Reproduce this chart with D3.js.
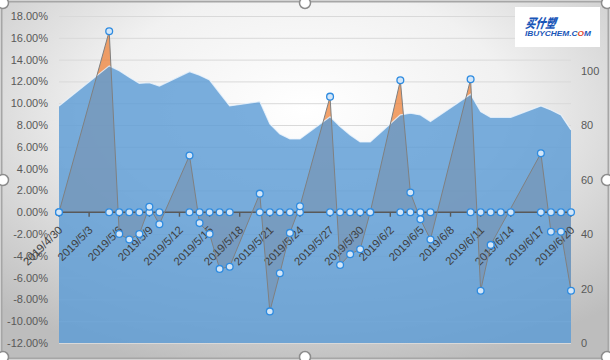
<!DOCTYPE html>
<html><head><meta charset="utf-8">
<script src="https://cdn.jsdelivr.net/npm/d3@7"></script>
<style>body{margin:0;background:#fff}svg{display:block}</style>
</head><body>
<svg id="c" width="610" height="360"></svg>
<script>
// ---- data ----
const dates = ["2019-04-30","2019-05-05","2019-05-06","2019-05-07","2019-05-08","2019-05-09","2019-05-10",
  "2019-05-13","2019-05-14","2019-05-15","2019-05-16","2019-05-17",
  "2019-05-20","2019-05-21","2019-05-22","2019-05-23","2019-05-24",
  "2019-05-27","2019-05-28","2019-05-29","2019-05-30","2019-05-31",
  "2019-06-03","2019-06-04","2019-06-05","2019-06-06",
  "2019-06-10","2019-06-11","2019-06-12","2019-06-13","2019-06-14",
  "2019-06-17","2019-06-18","2019-06-19","2019-06-20"];
// daily change (%), primary axis
const changePct = [0,16.6,-2.0,-2.5,-2.0,0.5,-1.1,
  5.2,-1.0,-2.0,-5.2,-5.0,
  1.7,-9.1,-5.6,-1.9,0.55,
  10.6,-4.85,-3.85,-3.4,0,
  12.1,1.8,-0.65,-2.5,
  12.2,-7.2,-3.0,null,null,
  5.4,-1.8,-1.8,-7.2];
// zero baseline series
const baseline = [0,0,0,0,0,0,0, 0,0,0,0,0, 0,0,0,0,0, 0,0,0,0,0, 0,0,0,0, 0,0,0,0,0, 0,0,0,0];
// index, secondary axis
const priceIndex = [87.0,101.7,99.9,97.5,95.3,95.5,94.3,
  99.6,98.3,96.5,91.7,87.0,
  88.6,80.4,76.7,74.9,74.9,
  83.0,79.4,76.3,73.8,73.8,
  83.7,84.3,83.7,81.3,
  91.3,84.9,82.8,82.8,82.8,
  87.0,85.5,83.7,78.2];
const leftTicks = [-12,-10,-8,-6,-4,-2,0,2,4,6,8,10,12,14,16,18];
const rightTicks = [0,20,40,60,80,100,120];
const xTickLabels = ["2019-04-30","2019-05-03","2019-05-06","2019-05-09","2019-05-12","2019-05-15","2019-05-18",
  "2019-05-21","2019-05-24","2019-05-27","2019-05-30","2019-06-02","2019-06-05","2019-06-08","2019-06-11",
  "2019-06-14","2019-06-17","2019-06-20"];

// ---- chart ----
const svg = d3.select("#c");
const defs = svg.append("defs");
const rg = defs.append("radialGradient").attr("id","bg").attr("cx","50%").attr("cy","30%").attr("r","75%");
rg.append("stop").attr("offset","0%").attr("stop-color","#ffffff");
rg.append("stop").attr("offset","45%").attr("stop-color","#f1f1f1");
rg.append("stop").attr("offset","100%").attr("stop-color","#bdbdbd");

svg.append("rect").attr("x",1.5).attr("y",1.5).attr("width",607).attr("height",357).attr("rx",7)
  .attr("fill","url(#bg)").attr("stroke","#a6a6a6").attr("stroke-width",2);

const parse = d3.utcParse("%Y-%m-%d");
const X0 = 59, X1 = 571, Y0 = 16, Y1 = 343;
const x = d3.scaleUtc().domain([parse(dates[0]), parse(dates[dates.length-1])]).range([X0, X1]);
const yL = d3.scaleLinear().domain([-12,18]).range([Y1, Y0]);
const yR = d3.scaleLinear().domain([0,120]).range([Y1, Y0]);

const rows = dates.map((d,i)=>({date:parse(d), v:changePct[i], z:baseline[i], p:priceIndex[i]}));

// gridlines
svg.append("g").selectAll("line").data(leftTicks).join("line")
  .attr("x1",X0).attr("x2",X1).attr("y1",d=>yL(d)+0.5).attr("y2",d=>yL(d)+0.5)
  .attr("stroke","#d9d9d9").attr("stroke-width",1);

// left axis labels
svg.append("g").selectAll("text").data(leftTicks).join("text")
  .attr("x",48).attr("y",d=>yL(d)+4).attr("text-anchor","end")
  .attr("font-family","Liberation Sans, Arial, sans-serif").attr("font-size",11).attr("fill","#595959")
  .text(d=>(d<0?"-":"")+Math.abs(d).toFixed(2)+"%");

// right axis labels
svg.append("g").selectAll("text").data(rightTicks).join("text")
  .attr("x",581).attr("y",d=>yR(d)+4).attr("text-anchor","start")
  .attr("font-family","Liberation Sans, Arial, sans-serif").attr("font-size",11).attr("fill","#595959")
  .text(d=>d);

const defined = rows.filter(r=>r.v!==null);

// orange area (primary)
svg.append("path").datum(defined)
  .attr("d", d3.area().x(d=>x(d.date)).y0(yL(0)).y1(d=>yL(d.v)))
  .attr("fill","#ED7D31").attr("fill-opacity",0.72);

// blue area (secondary) on top, semi-transparent
svg.append("path").datum(rows)
  .attr("d", d3.area().x(d=>x(d.date)).y0(yR(0)).y1(d=>yR(d.p)))
  .attr("fill","#5B9BD5").attr("fill-opacity",0.81);
svg.append("path").datum(rows)
  .attr("d", d3.line().x(d=>x(d.date)).y(d=>yR(d.p)))
  .attr("fill","none").attr("stroke","#eef5fc").attr("stroke-opacity",0.8).attr("stroke-width",1.2);

// x axis line + ticks
const y0 = yL(0);
svg.append("line").attr("x1",X0).attr("x2",X1).attr("y1",y0).attr("y2",y0)
  .attr("stroke","#595959").attr("stroke-width",1.6);
const tickDates = xTickLabels.map(parse);
svg.append("g").selectAll("line").data(tickDates).join("line")
  .attr("x1",d=>x(d)).attr("x2",d=>x(d)).attr("y1",y0).attr("y2",y0+4.5)
  .attr("stroke","#595959").attr("stroke-width",1.4);

// x labels
const fmt = d=>`${d.getUTCFullYear()}/${d.getUTCMonth()+1}/${d.getUTCDate()}`;
svg.append("g").selectAll("text").data(tickDates).join("text")
  .attr("transform",d=>`translate(${x(d)+4.3},${y0+18.5}) rotate(-45)`)
  .attr("text-anchor","end")
  .attr("font-family","Liberation Sans, Arial, sans-serif").attr("font-size",11.3).attr("fill","#404040")
  .text(fmt);

// line of change series
svg.append("path").datum(defined)
  .attr("d", d3.line().x(d=>x(d.date)).y(d=>yL(d.v)))
  .attr("fill","none").attr("stroke","#808080").attr("stroke-width",1);

// markers
const mk = (sel)=>sel.attr("r",3.4).attr("fill","#d3e6f8").attr("stroke","#2e8be0").attr("stroke-width",1.3);
svg.append("g").selectAll("circle").data(rows).join("circle")
  .attr("cx",d=>x(d.date)).attr("cy",d=>yL(d.z)).call(mk);
svg.append("g").selectAll("circle").data(defined).join("circle")
  .attr("cx",d=>x(d.date)).attr("cy",d=>yL(d.v)).call(mk);

// logo
const lg = svg.append("g");
lg.append("rect").attr("x",515).attr("y",7).attr("width",85).attr("height",40).attr("fill","#ffffff");
lg.append("text").attr("x",525).attr("y",28).attr("font-family","Noto Sans CJK SC, sans-serif")
  .attr("font-weight","900").attr("font-style","italic").attr("font-size",13).attr("fill","#1a56b8")
  .attr("transform","skewX(-10)").attr("dx",5)
  .attr("textLength",30).attr("lengthAdjust","spacingAndGlyphs").text("买什塑");
const t2 = lg.append("text").attr("x",525).attr("y",36).attr("font-family","Liberation Sans, Arial, sans-serif")
  .attr("font-weight","bold").attr("font-style","italic").attr("font-size",7.5).attr("fill","#1a56b8")
  .attr("textLength",66).attr("lengthAdjust","spacingAndGlyphs");
t2.append("tspan").text("IBUYCHEM.C");
t2.append("tspan").attr("fill","#e0452b").text("O");
t2.append("tspan").text("M");

// selection handles
const handles = [[3,3],[305,3],[607,3],[3,180],[607,180],[3,357],[305,357],[607,357]];
svg.append("g").selectAll("circle").data(handles).join("circle")
  .attr("cx",d=>d[0]).attr("cy",d=>d[1]).attr("r",5.5)
  .attr("fill","#ffffff").attr("stroke","#8c8c8c").attr("stroke-width",1.5);
</script>
</body></html>
